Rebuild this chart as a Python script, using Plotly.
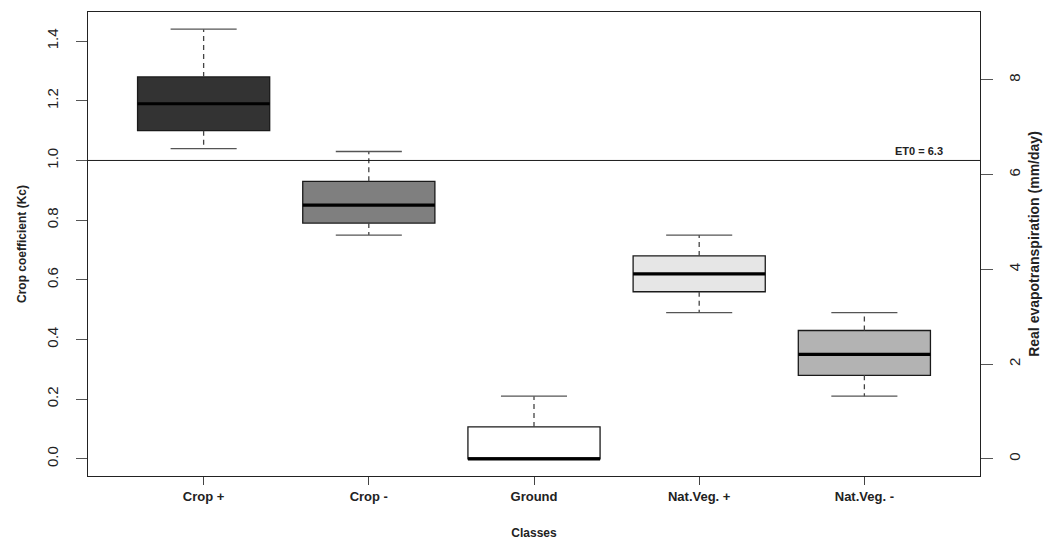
import plotly.graph_objects as go

classes = ["Crop +", "Crop -", "Ground", "Nat.Veg. +", "Nat.Veg. -"]
whisker_low = [1.04, 0.75, 0.0, 0.49, 0.21]
q1 = [1.10, 0.79, 0.0, 0.56, 0.28]
median = [1.19, 0.85, 0.0, 0.62, 0.35]
q3 = [1.28, 0.93, 0.107, 0.68, 0.43]
whisker_high = [1.44, 1.03, 0.21, 0.75, 0.49]
fills = ["#333333", "#7f7f7f", "#ffffff", "#e6e6e6", "#b3b3b3"]
et0 = 6.3
left_ticks = [0.0, 0.2, 0.4, 0.6, 0.8, 1.0, 1.2, 1.4]
right_ticks = [0, 2, 4, 6, 8]

BOX_W = 0.8
CAP_HALF = 0.2
FONT = "Liberation Sans, Arial, sans-serif"

fig = go.Figure()
positions = list(range(1, len(classes) + 1))

for i, pos in enumerate(positions):
    fig.add_trace(go.Box(
        x=[pos], q1=[q1[i]], median=[median[i]], q3=[q3[i]],
        lowerfence=[q1[i]], upperfence=[q3[i]],
        width=BOX_W, fillcolor=fills[i],
        line=dict(color="#1a1a1a", width=1.3),
        whiskerwidth=0, showlegend=False, hoverinfo="skip",
    ))
    fig.add_trace(go.Scatter(
        x=[pos - BOX_W / 2, pos + BOX_W / 2], y=[median[i], median[i]],
        mode="lines", line=dict(color="black", width=3.2),
        showlegend=False, hoverinfo="skip",
    ))
    for a, b in ((q3[i], whisker_high[i]), (q1[i], whisker_low[i])):
        if a != b:
            fig.add_trace(go.Scatter(
                x=[pos, pos], y=[a, b], mode="lines",
                line=dict(color="#444444", width=1.3, dash="5px,4px"),
                showlegend=False, hoverinfo="skip",
            ))
    for v in (whisker_high[i], whisker_low[i]):
        if v != median[i]:
            fig.add_trace(go.Scatter(
                x=[pos - CAP_HALF, pos + CAP_HALF], y=[v, v], mode="lines",
                line=dict(color="#555555", width=1.3),
                showlegend=False, hoverinfo="skip",
            ))

fig.add_trace(go.Scatter(x=[positions[0]], y=[0], yaxis="y2", mode="markers",
                         marker=dict(opacity=0), showlegend=False, hoverinfo="skip"))

ymin = min(whisker_low)
ymax = max(whisker_high)
pad = 0.04 * (ymax - ymin)
yr = [ymin - pad, ymax + pad]

fig.add_hline(y=1.0, line=dict(color="#1a1a1a", width=1))
fig.add_annotation(x=5.49, y=1.0, xref="x", yref="y", text="<b>ET0 = 6.3</b>",
                   showarrow=False, xanchor="right", yanchor="bottom",
                   font=dict(family=FONT, size=11, color="#222"), yshift=1)

fig.update_layout(
    width=1043, height=532,
    margin=dict(l=80, r=71, t=4, b=64),
    plot_bgcolor="white", paper_bgcolor="white",
    font=dict(family=FONT, color="#222"),
    xaxis=dict(
        range=[0.3, len(classes) + 0.7], tickmode="array", tickvals=positions,
        ticktext=["<b>%s</b>" % c for c in classes],
        tickfont=dict(size=13), ticks="outside", ticklen=8, tickcolor="#444",
        showline=True, linecolor="#222", linewidth=1, mirror=True,
        showgrid=False, zeroline=False, automargin=False,
        title=dict(text="<b>Classes</b>", font=dict(size=12), standoff=32),
    ),
    yaxis=dict(
        range=yr, tickmode="array", tickvals=left_ticks, tickformat=".1f",
        tickangle=-90, tickfont=dict(size=15), ticks="outside", ticklen=11, tickcolor="#555",
        ticklabelstandoff=12,
        showline=True, linecolor="#222", linewidth=1, mirror=True,
        showgrid=False, zeroline=False, automargin=False,
        title=dict(text="<b>Crop coefficient (Kc)</b>", font=dict(size=12), standoff=14),
    ),
    yaxis2=dict(
        overlaying="y", side="right", range=[yr[0] * et0, yr[1] * et0],
        tickmode="array", tickvals=right_ticks, tickangle=-90, tickfont=dict(size=15),
        ticks="outside", ticklen=12, tickcolor="#555", ticklabelstandoff=9,
        showline=False, showgrid=False, zeroline=False, automargin=False,
        title=dict(text="<b>Real evapotranspiration (mm/day)</b>", font=dict(size=14), standoff=7),
    ),
)

fig.write_html("out.html")
